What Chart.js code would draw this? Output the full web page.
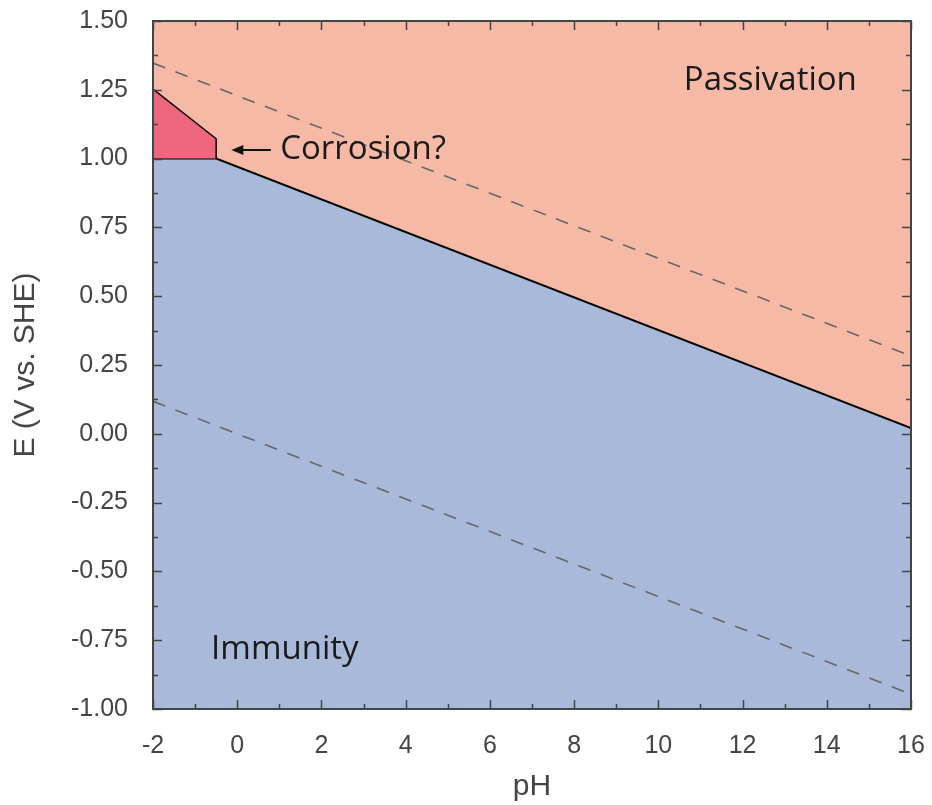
<!DOCTYPE html>
<html lang="en">
<head>
<meta charset="utf-8">
<title>Pourbaix diagram</title>
<style>
  body { margin: 0; background: #fff; }
  .chart { width: 932px; height: 805px; }
</style>
</head>
<body>
<div class="chart"><canvas id="myChart" width="932" height="805"></canvas></div>
<script src="https://cdn.jsdelivr.net/npm/chart.js@4.4.0/dist/chart.umd.min.js"></script>
<script>
// boundary between immunity and passivation
let boundaryPH = [-2, -0.5, 16];
let boundaryE = [1.0, 1.0, 0.021];

// corrosion pocket (top edge, fills down to E = 1.0)
let corrPH = [-2, -0.5, -0.5];
let corrE = [1.253, 1.072, 1.0];

// water stability lines
let waterPH = [-2, 16];
let waterUpperE = [1.347, 0.283];
let waterLowerE = [0.118, -0.946];

let xTicks = [-2, 0, 2, 4, 6, 8, 10, 12, 14, 16];
let yTicks = [-1, -0.75, -0.5, -0.25, 0, 0.25, 0.5, 0.75, 1, 1.25, 1.5];

// annotation text: [label, pH, E, align]
let labels = [
  ['Passivation', 12.66, 1.282, 'center'],
  ['Corrosion?', 1.02, 1.031, 'left'],
  ['Immunity', -0.62, -0.785, 'left']
];
let arrowFrom = [0.8, 1.031];
let arrowTo = [-0.14, 1.031];

function pts(xs, ys) {
  return xs.map(function (x, i) { return { x: x, y: ys[i] }; });
}

function noPad(s) {
  s.paddingTop = 0; s.paddingBottom = 0; s.paddingLeft = 0; s.paddingRight = 0;
}

let frame = {
  id: 'frame',
  afterDatasetsDraw: function (chart) {
    let ctx = chart.ctx;
    let a = chart.chartArea;
    let xs = chart.scales.x;
    let ys = chart.scales.y;
    ctx.save();
    ctx.strokeStyle = '#444';
    ctx.lineWidth = 1.5;
    ctx.beginPath();
    // x ticks, major every 2, minor on odd values
    for (let v = -2; v <= 16; v++) {
      let px = Math.round(xs.getPixelForValue(v)) + 0.5;
      let len = (v % 2 === 0) ? 9 : 5;
      ctx.moveTo(px, a.bottom); ctx.lineTo(px, a.bottom - len);
      ctx.moveTo(px, a.top); ctx.lineTo(px, a.top + len);
    }
    for (let k = 0; k <= 20; k++) {
      let v = -1 + k * 0.125;
      let py = Math.round(ys.getPixelForValue(v)) + 0.5;
      let len = (k % 2 === 0) ? 9 : 5;
      ctx.moveTo(a.left, py); ctx.lineTo(a.left + len, py);
      ctx.moveTo(a.right, py); ctx.lineTo(a.right - len, py);
    }
    ctx.stroke();
    ctx.lineWidth = 2;
    ctx.strokeRect(a.left, a.top, a.right - a.left, a.bottom - a.top);

    // labels
    ctx.fillStyle = '#1a1a1a';
    ctx.font = '33px "Open Sans", "Noto Sans", sans-serif';
    ctx.textBaseline = 'middle';
    labels.forEach(function (l) {
      ctx.textAlign = l[3];
      ctx.fillText(l[0], xs.getPixelForValue(l[1]), ys.getPixelForValue(l[2]));
    });

    // arrow
    let x1 = xs.getPixelForValue(arrowFrom[0]), y1 = ys.getPixelForValue(arrowFrom[1]);
    let x2 = xs.getPixelForValue(arrowTo[0]), y2 = ys.getPixelForValue(arrowTo[1]);
    ctx.strokeStyle = '#111';
    ctx.lineWidth = 2;
    ctx.beginPath();
    ctx.moveTo(x1, y1); ctx.lineTo(x2 + 6, y2);
    ctx.stroke();
    ctx.fillStyle = '#111';
    ctx.beginPath();
    ctx.moveTo(x2, y2);
    ctx.lineTo(x2 + 12, y2 - 5);
    ctx.lineTo(x2 + 12, y2 + 5);
    ctx.closePath();
    ctx.fill();
    ctx.restore();
  }
};

let ctx = document.getElementById('myChart').getContext('2d');
let chart = new Chart(ctx, {
  type: 'scatter',
  data: {
    datasets: [
      {
        // passivation fill above boundary
        data: pts(boundaryPH, boundaryE),
        showLine: true,
        fill: 'end',
        backgroundColor: '#F6B9A5',
        borderWidth: 0,
        pointRadius: 0,
        order: 5
      },
      {
        // immunity fill below boundary
        data: pts(boundaryPH, boundaryE),
        showLine: true,
        fill: 'start',
        backgroundColor: '#A8B9D9',
        borderColor: '#000',
        borderWidth: 2,
        pointRadius: 0,
        order: 4
      },
      {
        data: pts(corrPH, corrE),
        showLine: true,
        fill: { value: 1.0 },
        backgroundColor: '#EE677F',
        borderColor: '#000',
        borderWidth: 1.5,
        pointRadius: 0,
        order: 3
      },
      {
        data: pts(waterPH, waterUpperE),
        showLine: true,
        fill: false,
        borderColor: '#666',
        borderWidth: 1.6,
        borderDash: [13, 11],
        pointRadius: 0,
        order: 2
      },
      {
        data: pts(waterPH, waterLowerE),
        showLine: true,
        fill: false,
        borderColor: '#666',
        borderWidth: 1.6,
        borderDash: [13, 11],
        pointRadius: 0,
        order: 1
      }
    ]
  },
  options: {
    responsive: false,
    animation: false,
    layout: { padding: { top: 21, right: 21, left: 0, bottom: 0 } },
    plugins: {
      legend: { display: false },
      tooltip: { enabled: false }
    },
    scales: {
      x: {
        type: 'linear',
        min: -2,
        max: 16,
        grid: { display: false },
        border: { display: false },
        afterBuildTicks: function (s) { s.ticks = xTicks.map(function (v) { return { value: v }; }); },
        ticks: {
          padding: 14,
          color: '#444',
          font: { family: '"Liberation Sans", Arial, sans-serif', size: 25 },
          callback: function (v) { return String(v); }
        },
        title: {
          display: true,
          text: 'pH',
          color: '#444',
          font: { family: '"Liberation Sans", Arial, sans-serif', size: 30 },
          padding: { top: 4, bottom: 0 }
        },
        afterFit: function (s) { s.height = 96; noPad(s); }
      },
      y: {
        type: 'linear',
        min: -1,
        max: 1.5,
        grid: { display: false },
        border: { display: false },
        afterBuildTicks: function (s) { s.ticks = yTicks.map(function (v) { return { value: v }; }); },
        ticks: {
          padding: 17,
          color: '#444',
          font: { family: '"Liberation Sans", Arial, sans-serif', size: 25 },
          callback: function (v) { return v.toFixed(2); }
        },
        title: {
          display: true,
          text: 'E (V vs. SHE)',
          color: '#444',
          font: { family: '"Liberation Sans", Arial, sans-serif', size: 30 },
          padding: { top: 8, bottom: 8 }
        },
        afterFit: function (s) { s.width = 153; noPad(s); }
      }
    }
  },
  plugins: [frame]
});
</script>
</body>
</html>
